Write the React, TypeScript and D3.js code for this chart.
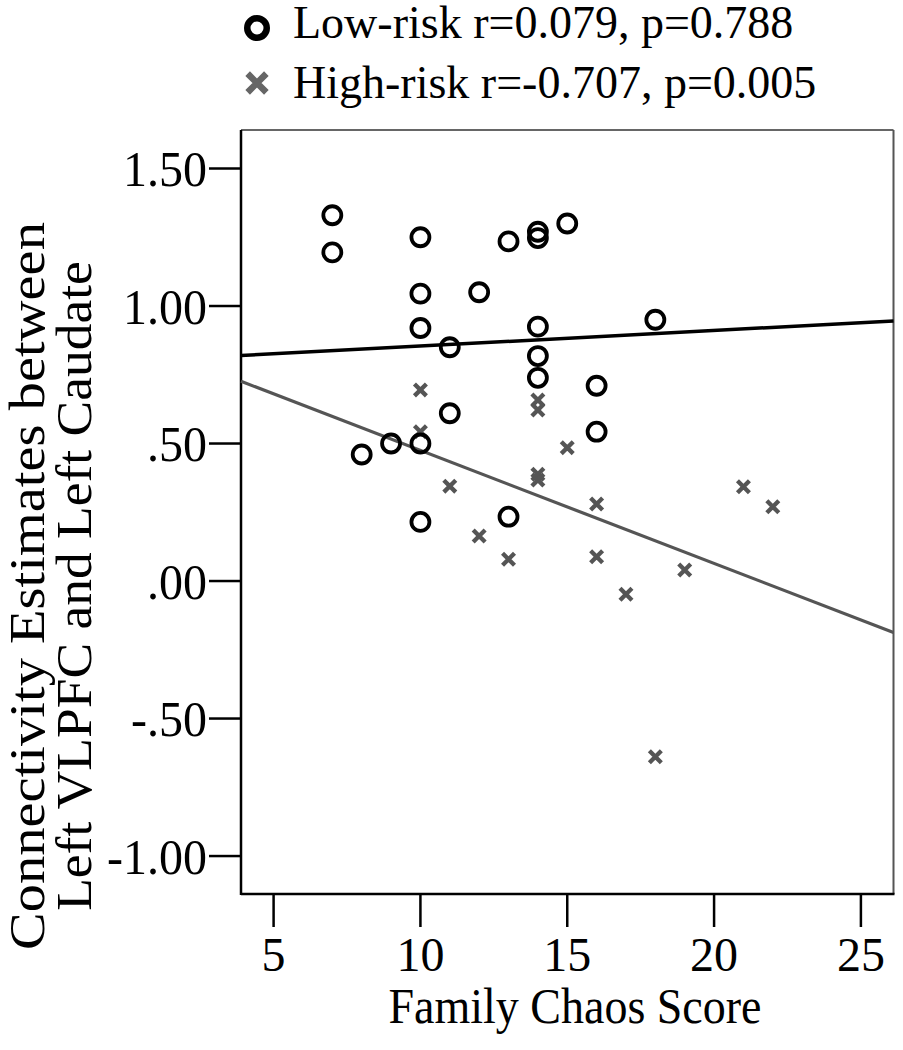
import React from "react";
import * as d3 from "d3";

// ---- data ----
const lowX = [7, 7, 8, 9, 10, 10, 10, 10, 10, 11, 11, 12, 13, 13, 14, 14, 14, 14, 14, 15, 16, 16, 18];
const lowY = [1.33, 1.195, 0.46, 0.5, 1.25, 1.045, 0.92, 0.5, 0.215, 0.85, 0.61, 1.05, 1.235, 0.234, 1.27, 1.247, 0.925, 0.818, 0.739, 1.3, 0.71, 0.543, 0.95];

const highX = [10, 10, 11, 12, 13, 14, 14, 14, 14, 15, 16, 16, 17, 18, 19, 21, 22];
const highY = [0.695, 0.543, 0.345, 0.164, 0.079, 0.658, 0.622, 0.388, 0.367, 0.485, 0.28, 0.088, -0.048, -0.639, 0.04, 0.343, 0.27];

// fit lines: [intercept, slope]
const lowFit = [0.798, 0.00565];
const highFit = [0.886, -0.0411];

const xTicks = [5, 10, 15, 20, 25];
const yTicks = [1.5, 1.0, 0.5, 0.0, -0.5, -1.0];
const yTickLabels = ["1.50", "1.00", ".50", ".00", "-.50", "-1.00"];
const xDomain = [3.89, 26.11];
const yDomain = [-1.138, 1.64];

const legendLabels = ["Low-risk r=0.079, p=0.788", "High-risk r=-0.707, p=0.005"];
const xTitle = "Family Chaos Score";
const yTitle = ["Connectivity Estimates between", "Left VLPFC and Left Caudate"];

const FONT = "'Liberation Serif', 'Times New Roman', serif";

export default function App() {
  const W = 903, H = 1050;
  const L = 241, R = 893.5, T = 130, B = 894;
  const x = d3.scaleLinear().domain(xDomain).range([L, R]);
  const y = d3.scaleLinear().domain(yDomain).range([B, T]);

  const crossPath = d3.symbol(d3.symbolX, 95)()!;
  const legendCross = d3.symbol(d3.symbolX, 230)()!;

  const fitLine = (fit: number[]) =>
    d3.line<number>().x((v) => x(v)).y((v) => y(fit[0] + fit[1] * v))(xDomain)!;

  return (
    <div style={{ position: "absolute", left: 0, top: 0 }}>
      <svg width={W} height={H} style={{ display: "block", background: "#fff" }} fontFamily={FONT}>
        {/* legend */}
        <circle cx={257} cy={28} r={9.75} fill="none" stroke="#000" strokeWidth={6.5} />
        <text x={293} y={38} fontSize={46} fill="#000">{legendLabels[0]}</text>
        <path d={legendCross} transform="translate(257,83)" stroke="#666" strokeWidth={6.5} fill="none" />
        <text x={293} y={98} fontSize={46} fill="#000">{legendLabels[1]}</text>

        {/* frame */}
        <line x1={L} x2={R} y1={T} y2={T} stroke="#666" strokeWidth={2} />
        <line x1={R} x2={R} y1={T} y2={B} stroke="#555" strokeWidth={2} />
        <line x1={L} x2={L} y1={T} y2={B + 1} stroke="#000" strokeWidth={2.5} />
        <line x1={L} x2={R + 1} y1={B} y2={B} stroke="#000" strokeWidth={2.5} />

        {/* y ticks */}
        {yTicks.map((t, i) => (
          <g key={"y" + i}>
            <line x1={L - 32} x2={L} y1={y(t)} y2={y(t)} stroke="#000" strokeWidth={2.5} />
            <text x={L - 34} y={y(t) + 17} fontSize={48} textAnchor="end" fill="#000"
              transform={`translate(0,${y(t)}) scale(1,1.05) translate(0,${-y(t)})`}>{yTickLabels[i]}</text>
          </g>
        ))}

        {/* x ticks */}
        {xTicks.map((t, i) => (
          <g key={"x" + i}>
            <line x1={x(t)} x2={x(t)} y1={B} y2={B + 33} stroke="#000" strokeWidth={2.5} />
            <text x={x(t)} y={971} fontSize={48} textAnchor="middle" fill="#000">{t}</text>
          </g>
        ))}

        {/* titles */}
        <text transform="translate(575,1023) scale(1,1.08)" fontSize={46} textAnchor="middle" fill="#000">{xTitle}</text>
        <text transform="translate(44,586) rotate(-90) scale(1.13,1)" fontSize={50} textAnchor="middle" fill="#000">{yTitle[0]}</text>
        <text transform="translate(91,586) rotate(-90) scale(1.07,1)" fontSize={50} textAnchor="middle" fill="#000">{yTitle[1]}</text>

        {/* fit lines */}
        <path d={fitLine(highFit)} stroke="#555" strokeWidth={3.2} fill="none" />
        <path d={fitLine(lowFit)} stroke="#000" strokeWidth={3.5} fill="none" />

        {/* points */}
        {highX.map((v, i) => (
          <path key={"h" + i} d={crossPath} transform={`translate(${x(v)},${y(highY[i])})`} stroke="#555" strokeWidth={4.3} fill="none" />
        ))}
        {lowX.map((v, i) => (
          <circle key={"l" + i} cx={x(v)} cy={y(lowY[i])} r={9} fill="none" stroke="#000" strokeWidth={3.8} />
        ))}
      </svg>
    </div>
  );
}
